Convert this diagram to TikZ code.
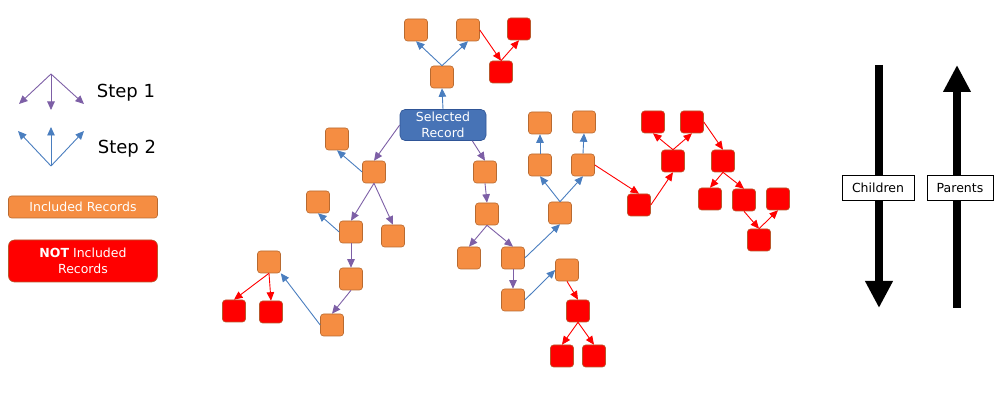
\documentclass[tikz,border=0pt]{standalone}
\usepackage{fontspec}
\setmainfont{DejaVu Sans}
\usetikzlibrary{arrows.meta}
\definecolor{recorange}{HTML}{F58D42}
\definecolor{recborder}{HTML}{B86A30}
\definecolor{notred}{HTML}{FF0000}
\definecolor{notborder}{HTML}{B8582C}
\definecolor{selblue}{HTML}{4773B6}
\definecolor{selborder}{HTML}{2F5597}
\definecolor{steppurple}{HTML}{7D5FA6}
\definecolor{stepblue}{HTML}{4A7EBF}

\begin{document}
\begin{tikzpicture}[x=1pt,y=-1pt,
	rec/.style={draw=recborder,fill=recorange,rounded corners=3pt,minimum width=23pt,minimum height=22pt,inner sep=0pt,line width=0.6pt},
	notrec/.style={rec,fill=notred,draw=notborder},
	child/.style={draw=steppurple,line width=0.9pt,-{Triangle[length=8.5pt,width=7.5pt]}},
	parent/.style={draw=stepblue,line width=0.9pt,-{Triangle[length=8.5pt,width=7.5pt]}},
	excl/.style={draw=notred,line width=0.9pt,-{Triangle[length=8.5pt,width=7.5pt]}},
	bigarrow/.style={line width=8pt,-{Triangle[length=27pt,width=26pt]}},
	legtext/.style={font=\fontsize{18}{20}\selectfont},
	sidelabel/.style={draw=black,fill=white,line width=0.8pt,minimum height=25pt,inner sep=0pt,font=\fontsize{12.5}{14}\selectfont}]
	\useasboundingbox (0,0) rectangle (1002,411);

	% legend
	\coordinate (s1) at (51,74);
	\coordinate (s1a) at (19,104);
	\coordinate (s1b) at (51,110);
	\coordinate (s1c) at (84,104);
	\draw[child] (s1)--(s1a);
	\draw[child] (s1)--(s1b);
	\draw[child] (s1)--(s1c);
	\node[legtext] (step1) at (126,93) {Step 1};
	\coordinate (s2) at (51,166);
	\coordinate (s2a) at (18,131);
	\coordinate (s2b) at (51,127);
	\coordinate (s2c) at (84,131);
	\draw[parent] (s2)--(s2a);
	\draw[parent] (s2)--(s2b);
	\draw[parent] (s2)--(s2c);
	\node[legtext] (step2) at (127,149) {Step 2};
	\node[rec,minimum width=149pt,text=white,font=\fontsize{12.5}{14}\selectfont] (incl) at (83,207) {Included Records};
	\node[notrec,rounded corners=6pt,minimum width=149pt,minimum height=42pt,align=center,text=white,font=\fontsize{12.5}{16}\selectfont] (notincl) at (83,261) {\textbf{NOT} Included\\Records};

	% selected record
	\node[rec,fill=selblue,draw=selborder,minimum width=86pt,minimum height=31pt,rounded corners=5pt,align=center,text=white,font=\fontsize{12.5}{15.5}\selectfont] (sel) at (443,125) {Selected\\Record};

	% top
	\node[rec] (t1) at (416,30) {};
	\node[rec] (t2) at (468,30) {};
	\node[notrec] (t3) at (519,29) {};
	\node[notrec] (t4) at (501,72) {};
	\node[rec] (t5) at (442,77) {};
	\draw[parent] (sel.north)--(t5.south);
	\draw[parent] (t5.north)--(t1.south);
	\draw[parent] (t5.north)--(t2.south);
	\draw[excl] (t2.east)--(t4.north);
	\draw[excl] (t4.north)--(t3.south);

	% left
	\node[rec] (l1) at (337,139) {};
	\node[rec] (l2) at (374,172) {};
	\node[rec] (l3) at (318,202) {};
	\node[rec] (l4) at (351,232) {};
	\node[rec] (l5) at (393,236) {};
	\node[rec] (l6) at (351,279) {};
	\node[rec] (l7) at (332,325) {};
	\node[rec] (l8) at (269,262) {};
	\node[notrec] (l9) at (234,311) {};
	\node[notrec] (l10) at (271,312) {};
	\draw[child] (sel.west)--(l2.north);
	\draw[parent] (l2.west)--(l1.south);
	\draw[child] (l2.south)--(l4.north);
	\draw[child] (l2.south)--(l5.north);
	\draw[parent] (l4.west)--(l3.south);
	\draw[child] (l4.south)--(l6.north);
	\draw[child] (l6.south)--(l7.north);
	\draw[parent] (l7.west)--(l8.south east);
	\draw[excl] (l8.south)--(l9.north);
	\draw[excl] (l8.south)--(l10.north);

	% middle
	\node[rec] (m1) at (485,172) {};
	\node[rec] (m2) at (487,214) {};
	\node[rec] (m3) at (469,258) {};
	\node[rec] (m4) at (513,258) {};
	\node[rec] (m5) at (513,300) {};
	\node[rec] (m6) at (567,270) {};
	\node[notrec] (m7) at (578,311) {};
	\node[notrec] (m8) at (562,356) {};
	\node[notrec] (m9) at (594,356) {};
	\node[rec] (m10) at (560,213) {};
	\node[rec] (m11) at (540,165) {};
	\node[rec] (m12) at (583,165) {};
	\node[rec] (m13) at (540,123) {};
	\node[rec] (m14) at (584,122) {};
	\node[notrec] (m15) at (639,205) {};
	\draw[child] ([xshift=-14pt]sel.south east)--(m1.north);
	\draw[child] (m1.south)--(m2.north);
	\draw[child] (m2.south)--(m3.north);
	\draw[child] (m2.south)--(m4.north);
	\draw[child] (m4.south)--(m5.north);
	\draw[parent] (m5.east)--(m6.west);
	\draw[excl] (m6.south)--(m7.north);
	\draw[excl] (m7.south)--(m8.north);
	\draw[excl] (m7.south)--(m9.north);
	\draw[parent] (m4.east)--(m10.south);
	\draw[parent] (m10.north)--(m11.south);
	\draw[parent] (m10.north)--(m12.south);
	\draw[parent] (m11.north)--(m13.south);
	\draw[parent] (m12.north)--(m14.south);
	\draw[excl] (m12.east)--(m15.north);

	% right
	\node[notrec] (r1) at (653,122) {};
	\node[notrec] (r2) at (692,122) {};
	\node[notrec] (r3) at (673,161) {};
	\node[notrec] (r4) at (723,161) {};
	\node[notrec] (r5) at (710,199) {};
	\node[notrec] (r6) at (744,200) {};
	\node[notrec] (r7) at (778,199) {};
	\node[notrec] (r8) at (759,240) {};
	\draw[excl] (m15.east)--(r3.south);
	\draw[excl] (r3.north)--(r1.south);
	\draw[excl] (r3.north)--(r2.south);
	\draw[excl] (r2.east)--(r4.north);
	\draw[excl] (r4.south)--(r5.north);
	\draw[excl] (r4.south)--(r6.north);
	\draw[excl] (r6.south)--(r8.north);
	\draw[excl] (r8.north)--(r7.south);

	% direction arrows
	\coordinate (ctop) at (879,65);
	\coordinate (cbot) at (879,308);
	\coordinate (pbot) at (957,308);
	\coordinate (ptop) at (957,65);
	\draw[bigarrow] (ctop)--(cbot);
	\draw[bigarrow] (pbot)--(ptop);
	\node[sidelabel,minimum width=72pt] (children) at (878,188) {Children};
	\node[sidelabel,minimum width=66pt] (parents) at (960,188) {Parents};
\end{tikzpicture}
\end{document}
